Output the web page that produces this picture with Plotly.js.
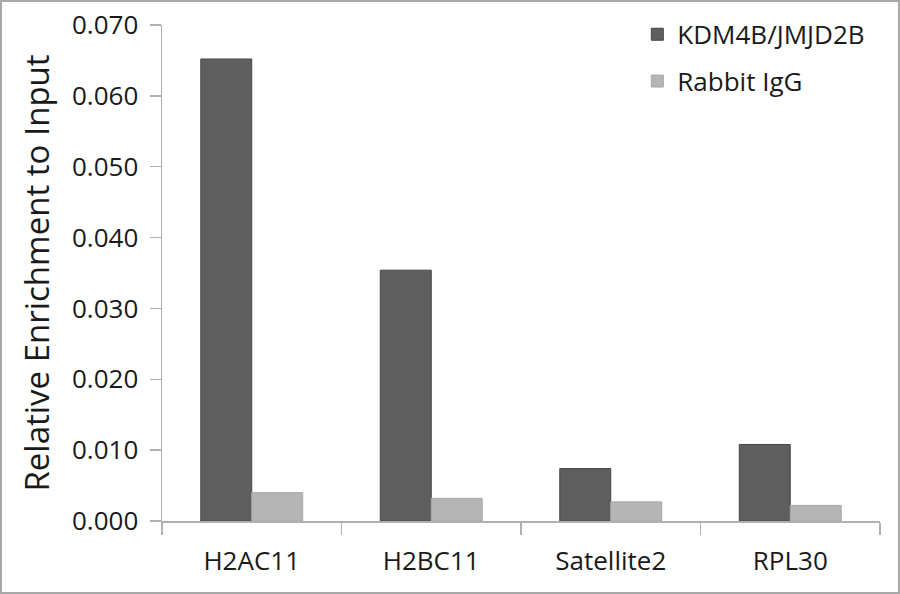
<!DOCTYPE html>
<html>
<head>
<meta charset="utf-8">
<script src="https://cdn.plot.ly/plotly-3.0.1.min.js"></script>
<style>
  html, body { margin: 0; padding: 0; background: #fff; }
  #frame { position: absolute; left: 0; top: 0; width: 900px; height: 594px; box-sizing: border-box; border: 2px solid #a8a8a8; }
  #chart { width: 896px; height: 590px; }
</style>
</head>
<body>
<div id="frame"><div id="chart"></div></div>
<script>
const categories = ["H2AC11", "H2BC11", "Satellite2", "RPL30"];
const seriesNames = ["KDM4B/JMJD2B", "Rabbit IgG"];
const kdm4bValues = [0.0652, 0.0354, 0.0074, 0.0108];
const iggValues = [0.0040, 0.0032, 0.0027, 0.0022];
const yTickValues = [0, 0.01, 0.02, 0.03, 0.04, 0.05, 0.06, 0.07];
const yTickLabels = ["0.000", "0.010", "0.020", "0.030", "0.040", "0.050", "0.060", "0.070"];
const yTitle = "Relative Enrichment to Input";

const FONT = "Open Sans, Segoe UI, Arial, sans-serif";
const axisGray = "#b0b0b0";
const textColor = "#1a1a1a";

const traces = [
  {
    type: "bar", name: seriesNames[0], x: categories, y: kdm4bValues,
    legendgroup: "a",
    marker: { color: "#5e5e5e", line: { color: "#474747", width: 1 } }
  },
  {
    type: "bar", name: seriesNames[1], x: categories, y: iggValues,
    legendgroup: "b",
    marker: { color: "#b5b5b5", line: { color: "#a9a9a9", width: 1 } }
  }
];

const layout = {
  width: 896, height: 590,
  margin: { l: 160, r: 18, t: 23, b: 71, pad: 0, autoexpand: false },
  paper_bgcolor: "#ffffff", plot_bgcolor: "#ffffff",
  barmode: "group", bargap: 0.432, bargroupgap: 0,
  font: { family: FONT, color: textColor, size: 26 },
  showlegend: true,
  legend: {
    x: 0.662, xanchor: "left", xref: "paper",
    y: 0.985, yanchor: "top", yref: "container",
    font: { family: FONT, size: 26, color: textColor },
    traceorder: "grouped", tracegroupgap: 10,
    bgcolor: "rgba(0,0,0,0)", borderwidth: 0
  },
  xaxis: {
    type: "category",
    showline: true, linecolor: axisGray, linewidth: 1.5,
    ticks: "outside", tickson: "boundaries", ticklen: 12, tickcolor: axisGray, tickwidth: 1.5,
    tickfont: { family: FONT, size: 26, color: textColor },
    ticklabelstandoff: 16,
    showgrid: false, zeroline: false, fixedrange: true
  },
  yaxis: {
    range: [0, 0.07],
    tickvals: yTickValues, ticktext: yTickLabels,
    showline: true, linecolor: axisGray, linewidth: 1.5,
    ticks: "outside", ticklen: 11, tickcolor: axisGray, tickwidth: 1.5,
    tickfont: { family: FONT, size: 26, color: textColor },
    ticklabelstandoff: 6,
    showgrid: false, zeroline: false,
    title: { text: yTitle, font: { family: FONT, size: 33, color: textColor }, standoff: 12 }
  },
  shapes: [
    { type: "line", xref: "paper", yref: "paper", x0: 0, x1: 0, y0: 0, y1: -0.025,
      line: { color: axisGray, width: 1.5 } }
  ]
};

Plotly.newPlot("chart", traces, layout, { staticPlot: true, displayModeBar: false });
</script>
</body>
</html>
